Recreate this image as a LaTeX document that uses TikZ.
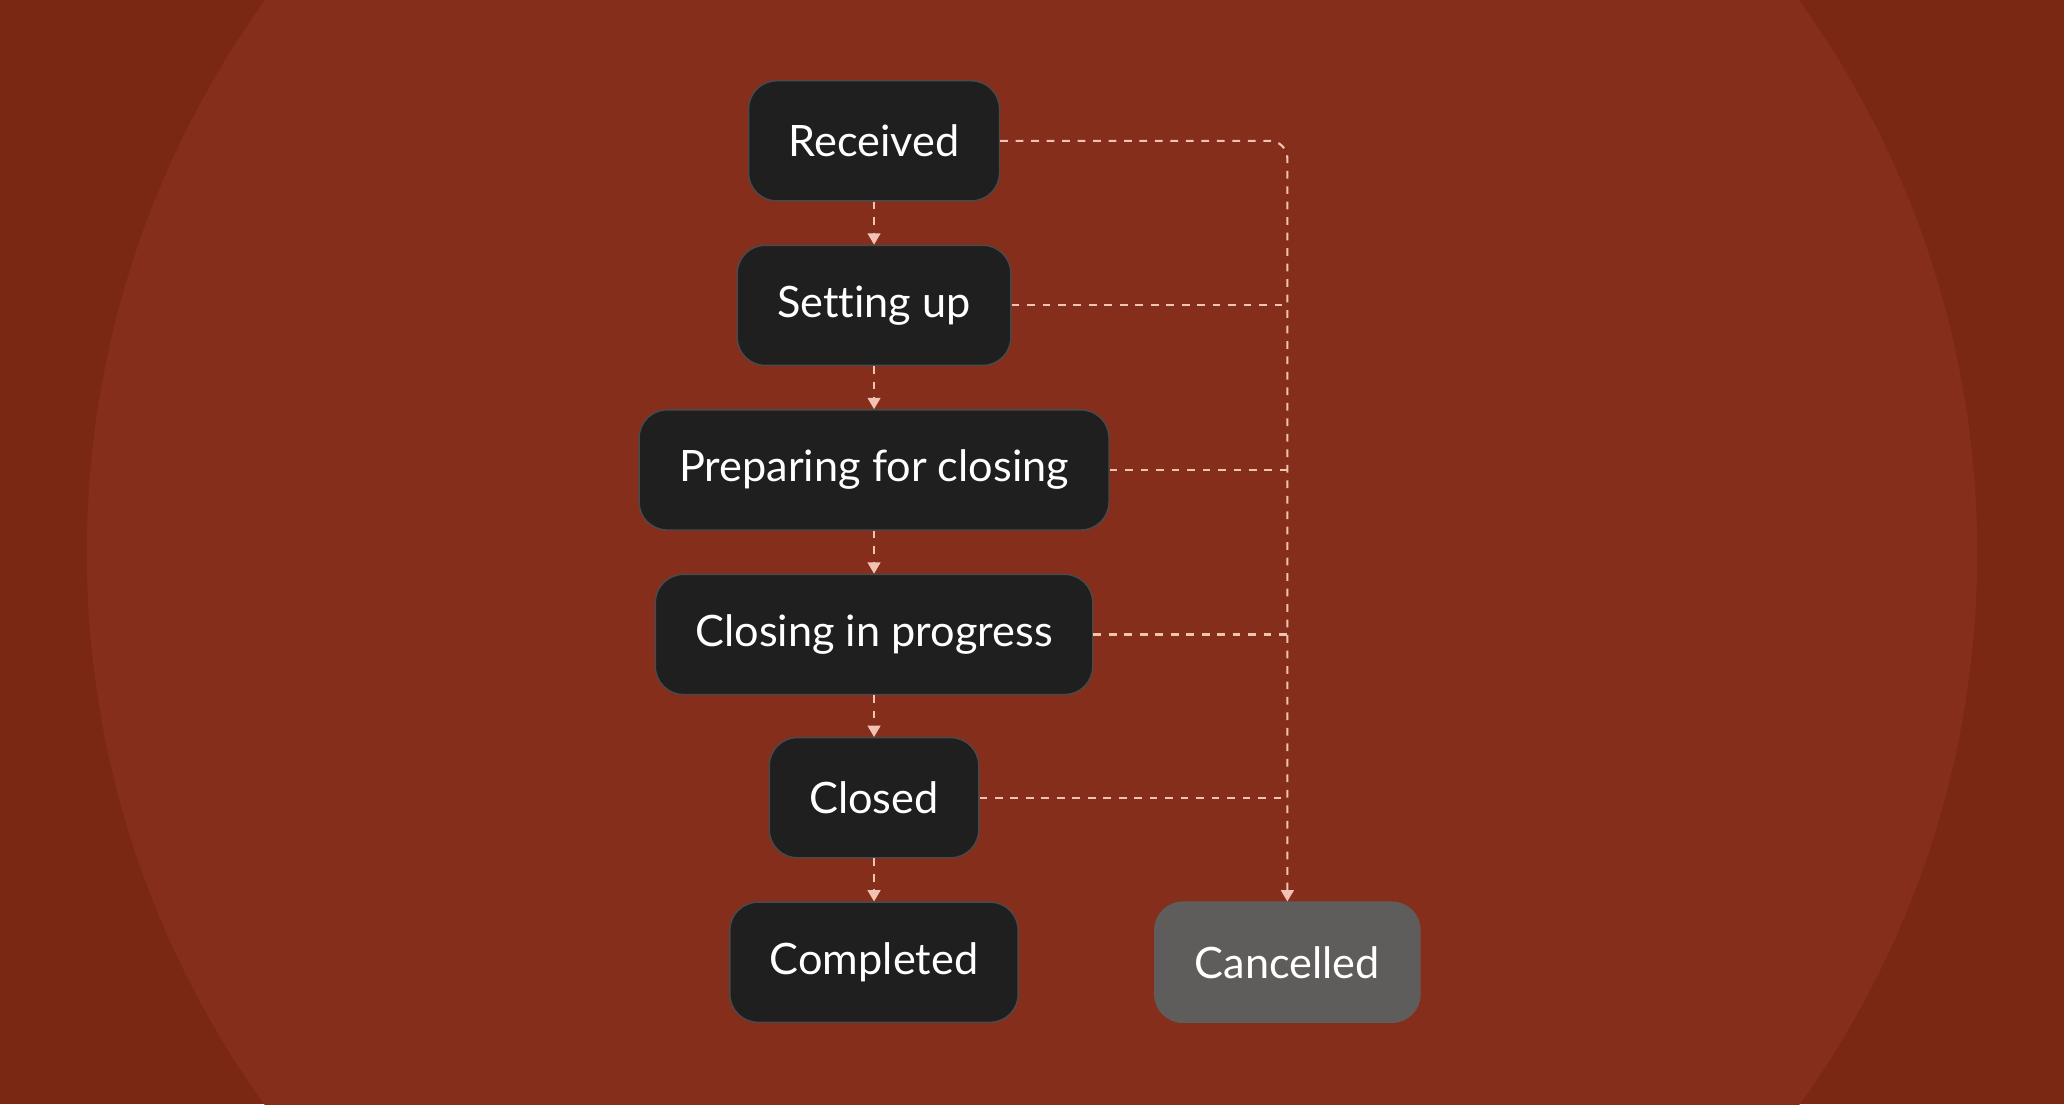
\documentclass[tikz,border=0pt]{standalone}
\usepackage{fontspec}
\setmainfont[Ligatures=NoCommon]{Lato}
\usetikzlibrary{positioning,arrows.meta,calc}
\definecolor{bgdark}{HTML}{7A2814}
\definecolor{bglight}{HTML}{852E1C}
\definecolor{boxfill}{HTML}{1F1F1F}
\definecolor{boxline}{HTML}{4A4A4A}
\definecolor{greyfill}{HTML}{5F5D5B}
\definecolor{dashcol}{HTML}{F2C2B2}
\tikzset{
  state/.style={draw=boxline, line width=0.4pt, fill=boxfill, text=white, rounded corners=0.28cm,
    minimum height=1.2cm, inner xsep=0.4cm, font=\fontsize{12.3pt}{14pt}\selectfont},
  flow/.style={draw=dashcol, line width=0.6pt, dash pattern=on 2.2pt off 2.2pt,
    -{Triangle[width=3.6pt,length=3.2pt]}},
  link/.style={draw=dashcol, line width=0.6pt, dash pattern=on 2.2pt off 2.2pt}
}
\begin{document}
\begin{tikzpicture}[x=0.01316cm, y=-0.01316cm]
  % background
  \fill[bgdark] (0,0) rectangle (1568,839);
  \begin{scope}
    \clip (0,0) rectangle (1568,839);
    \fill[bglight] (784,420) circle (718);
  \end{scope}
  \useasboundingbox (0,0) rectangle (1568,839);

  % states
  \node[state] (received) at (664,107) {Received};
  \node[state] (setup) at (664,232) {Setting up};
  \node[state] (preparing) at (664,357) {Preparing for closing};
  \node[state] (progress) at (664,482) {Closing in progress};
  \node[state] (closed) at (664,606) {Closed};
  \node[state] (completed) at (664,731) {Completed};
  \node[state, fill=greyfill, draw=greyfill] (cancelled) at (978,731) {Cancelled};

  % main path
  \draw[flow] (received) -- (setup);
  \draw[flow] (setup) -- (preparing);
  \draw[flow] (preparing) -- (progress);
  \draw[flow] (progress) -- (closed);
  \draw[flow] (closed) -- (completed);

  % cancel path
  \coordinate (corner) at (978,107);
  \draw[flow, rounded corners=5pt] (received.east) -- (corner) -- (cancelled.north);
  \foreach \s in {setup,preparing,progress,closed}
    \draw[link] (\s.east) -- (\s.east -| cancelled);
\end{tikzpicture}
\end{document}
